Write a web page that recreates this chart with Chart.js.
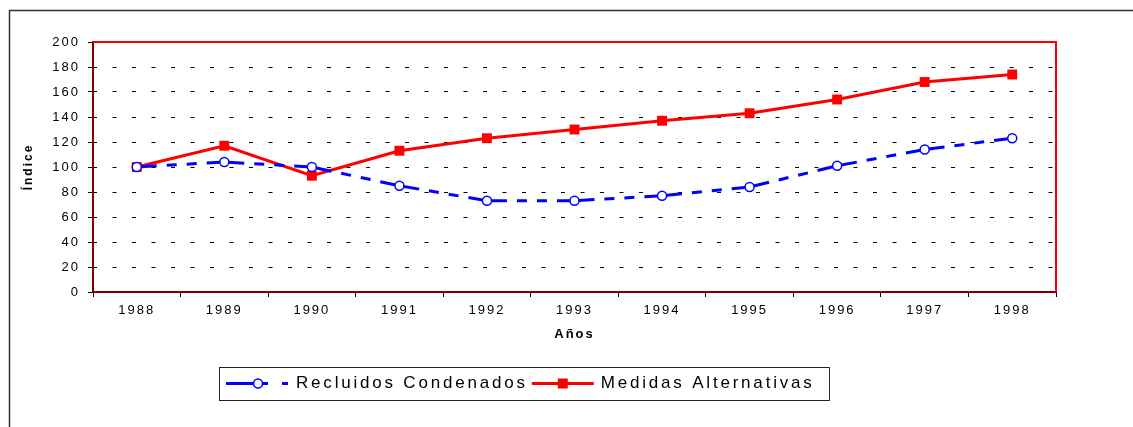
<!DOCTYPE html>
<html>
<head>
<meta charset="utf-8">
<script src="https://cdn.jsdelivr.net/npm/chart.js@4"></script>
<style>
  html, body { margin: 0; padding: 0; background: #fff; }
  #wrap { width: 1133px; height: 427px; }
</style>
</head>
<body>
<div id="wrap"><canvas id="grafico" width="1133" height="427"></canvas></div>
<script>
const anos = ['1988', '1989', '1990', '1991', '1992', '1993', '1994', '1995', '1996', '1997', '1998'];
const recluidos = [100, 104, 100, 85, 73, 73, 77, 84, 101, 114, 123];
const medidas = [100, 117, 93, 113, 123, 130, 137, 143, 154, 168, 174];
const yTicks = [0, 20, 40, 60, 80, 100, 120, 140, 160, 180, 200];

const FONT = "'Liberation Sans', Arial, sans-serif";

// fondo, marco exterior, bordes rojos del area y leyenda
const marco = {
  id: 'marco',
  beforeDraw(chart) {
    const c = chart.ctx;
    c.save();
    c.fillStyle = '#fff';
    c.fillRect(0, 0, chart.width, chart.height);
    c.strokeStyle = '#333';
    c.lineWidth = 1.5;
    c.beginPath();
    c.moveTo(9.5, chart.height);
    c.lineTo(9.5, 10.5);
    c.lineTo(chart.width, 10.5);
    c.stroke();
    c.restore();
    c.letterSpacing = '2px';
  },
  beforeDatasetsDraw(chart) {
    const a = chart.chartArea, c = chart.ctx;
    c.save();
    c.strokeStyle = '#ff0000';
    c.lineWidth = 2;
    c.beginPath();
    c.moveTo(a.left, a.top);
    c.lineTo(a.right, a.top);
    c.lineTo(a.right, a.bottom);
    c.stroke();
    c.restore();
  },
  afterDraw(chart) {
    const c = chart.ctx;
    const ds = chart.data.datasets;
    c.save();
    c.letterSpacing = '2.8px';
    c.font = '17px ' + FONT;
    c.textBaseline = 'middle';
    c.fillStyle = '#000';
    const bx = 219.5, by = 367.5, bw = 610, bh = 33;
    c.strokeStyle = '#222';
    c.lineWidth = 1;
    c.strokeRect(bx, by, bw, bh);
    const ly = 383.5;

    // serie 1
    let x = 226;
    c.strokeStyle = ds[0].borderColor;
    c.lineWidth = ds[0].borderWidth;
    c.setLineDash([42, 14, 6, 20]);
    c.beginPath(); c.moveTo(x, ly); c.lineTo(x + 62, ly); c.stroke();
    c.setLineDash([]);
    c.beginPath();
    c.arc(x + 32, ly, ds[0].pointRadius, 0, Math.PI * 2);
    c.fillStyle = ds[0].pointBackgroundColor; c.fill();
    c.lineWidth = ds[0].pointBorderWidth; c.stroke();
    c.fillStyle = '#000';
    c.fillText(ds[0].label, 296, ly);
    x = 296 + c.measureText(ds[0].label).width + 4;

    // serie 2
    c.strokeStyle = ds[1].borderColor;
    c.lineWidth = ds[1].borderWidth;
    c.beginPath(); c.moveTo(x, ly); c.lineTo(x + 62, ly); c.stroke();
    c.fillStyle = ds[1].pointBackgroundColor;
    c.fillRect(x + 26, ly - 5, 10, 10);
    c.fillStyle = '#000';
    c.fillText(ds[1].label, x + 69, ly);
    c.restore();
  }
};

new Chart(document.getElementById('grafico'), {
  type: 'line',
  data: {
    labels: anos,
    datasets: [{
      label: 'Recluidos Condenados',
      data: recluidos,
      borderColor: '#0000ff',
      borderWidth: 3,
      borderCapStyle: 'butt',
      borderDash: [20, 10, 10, 10, 10, 10],
      pointRadius: 4.5,
      pointBorderWidth: 1.5,
      pointBackgroundColor: '#ffffff',
      pointBorderColor: '#0000ff',
      tension: 0,
      segment: {
        borderDashOffset: ctx => ctx.p0DataIndex * 0.001
      }
    }, {
      label: 'Medidas Alternativas',
      data: medidas,
      borderColor: '#ff0000',
      borderWidth: 3,
      pointStyle: 'rect',
      pointRadius: 7,
      pointBorderWidth: 0,
      pointBackgroundColor: '#ff0000',
      pointBorderColor: '#ff0000',
      tension: 0
    }]
  },
  options: {
    responsive: false,
    animation: false,
    layout: { padding: { left: 10, top: 42, right: 77, bottom: 85 } },
    plugins: { legend: { display: false }, tooltip: { enabled: false } },
    scales: {
      x: {
        offset: true,
        grid: { offset: true, drawOnChartArea: false, tickLength: 5, tickColor: '#000' },
        border: { color: '#800000', width: 2 },
        ticks: { color: '#000', font: { family: FONT, size: 13 }, padding: 6, maxRotation: 0, autoSkip: false },
        title: { display: true, text: 'Años', color: '#000', font: { family: FONT, size: 13, weight: 'bold' }, padding: 0 },
        afterFit: s => { s.height = 50; }
      },
      y: {
        min: 0,
        max: 200,
        afterBuildTicks: s => { s.ticks = yTicks.map(v => ({ value: v })); },
        grid: {
          color: c => (c.tick && (c.tick.value === 0 || c.tick.value === 200)) ? 'rgba(0,0,0,0)' : '#000',
          lineWidth: 1,
          tickLength: 5,
          tickColor: '#000'
        },
        border: { color: '#800000', width: 2, dash: [4, 15.5], dashOffset: 1 },
        ticks: { color: '#000', font: { family: FONT, size: 13 }, padding: 8 },
        title: { display: true, text: 'Índice', color: '#000', font: { family: FONT, size: 12, weight: 'bold' }, padding: { top: 11, bottom: 0 } },
        afterFit: s => { s.width = 83; }
      }
    }
  },
  plugins: [marco]
});
</script>
</body>
</html>
